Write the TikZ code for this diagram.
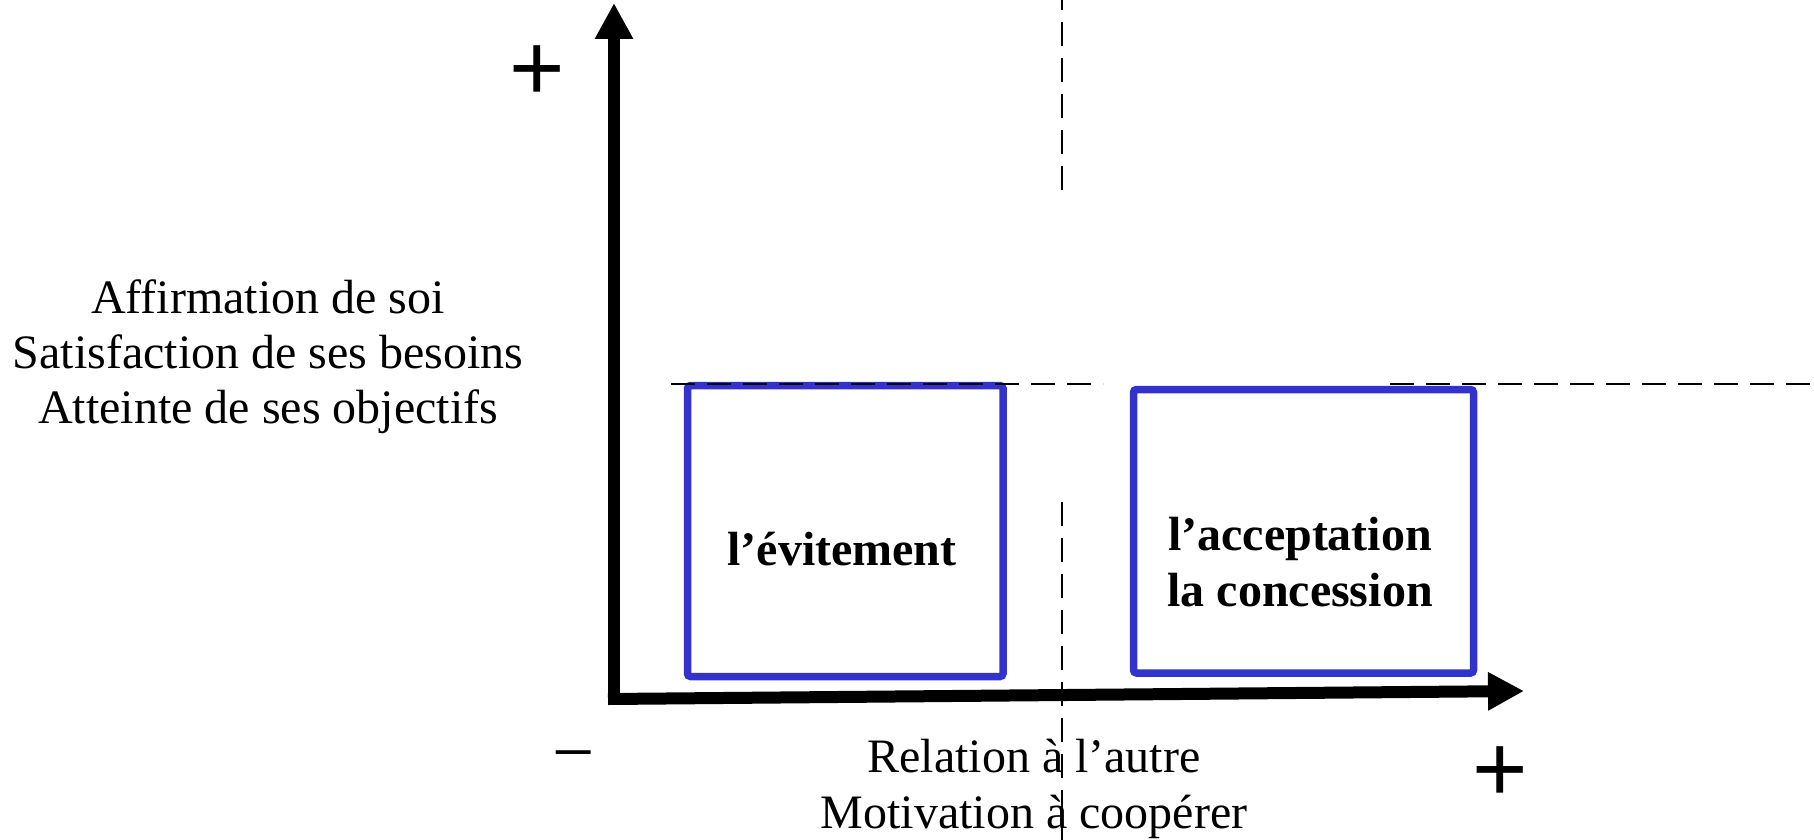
\documentclass[tikz,border=0pt]{standalone}
\usepackage{fontspec}
\setmainfont{Liberation Serif}
\newfontfamily\signfont{Liberation Sans}
\usetikzlibrary{arrows.meta}
\definecolor{zoneblue}{RGB}{51,51,204}

\begin{document}
\begin{tikzpicture}[x=0.5pt,y=-0.5pt,
  axis/.style={line width=6pt, -{Triangle[length=18pt,width=18pt]}},
  guide/.style={line width=1.4pt, dash pattern=on 12pt off 6pt},
  zone/.style={draw=zoneblue, line width=3.75pt, rounded corners=1.5pt, inner sep=0pt},
  lbl/.style={font=\fontsize{24pt}{27.5pt}\selectfont, inner sep=0pt, align=center},
  zonelbl/.style={font=\fontsize{24pt}{28pt}\selectfont\bfseries, inner sep=0pt, align=center},
  sign/.style={inner sep=0pt, anchor=base},
  plussign/.style={sign, font=\signfont\fontsize{47.5pt}{50pt}\selectfont},
]
\useasboundingbox (0,0) rectangle (1814,840);

% axes
\coordinate (O) at (614,705);
\coordinate (ytip) at (614,3);
\coordinate (xstart) at (608,699);
\coordinate (xtip) at (1524,691);
\draw[axis] (O) -- (ytip);
\draw[axis] (xstart) -- (xtip);

% zones
\node[zone, minimum width=157.75pt, minimum height=145.5pt] (evit) at (845.25,531) {};
\node[zone, minimum width=170pt, minimum height=141.75pt] (accept) at (1303.5,531.25) {};

% zone labels
\node[zonelbl, anchor=base] (evitlbl) at (842,565) {l’évitement};
\node[zonelbl] (acceptlbl) at (1300,562) {l’acceptation\\la concession};

% axis labels
\node[lbl] (ylbl) at (268,357) {Affirmation de soi\\Satisfaction de ses besoins\\Atteinte de ses objectifs};
\node[lbl, font=\fontsize{24pt}{28pt}\selectfont] (xlbl) at (1034,789) {Relation à l’autre\\Motivation à coopérer};

% signs
\node[plussign] (yplus) at (537.5,101) {+};
\node[plussign] (xplus) at (1500.5,801) {+};
\node[sign, font=\fontsize{37.5pt}{40pt}\selectfont] (xminus) at (573.5,777) {−};

% dashed guides
\draw[guide, dash phase=7pt] (1062,0) -- (1062,191);
\draw[guide] (1062,502) -- (1062,840);
\draw[guide] (671,384) -- (1103,384);
\draw[guide] (1390,384) -- (1814,384);
\end{tikzpicture}
\end{document}
